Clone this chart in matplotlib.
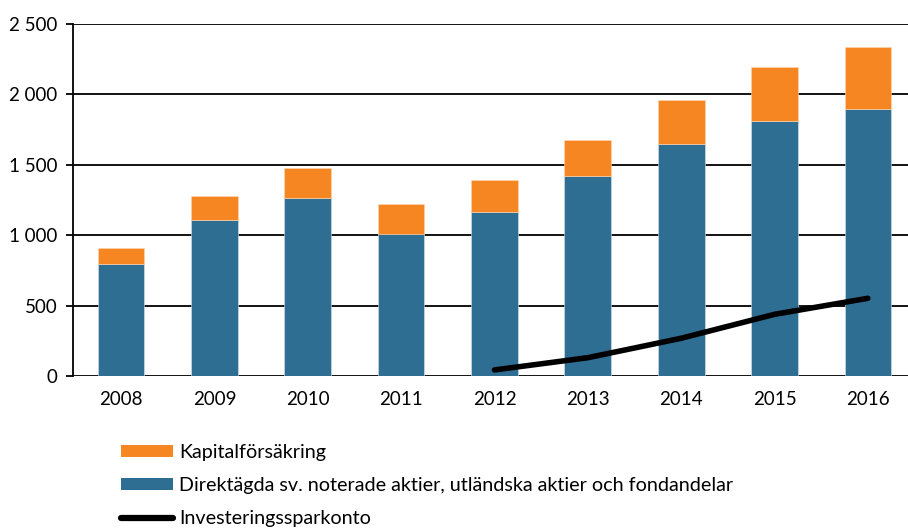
import numpy as np
import matplotlib
matplotlib.use("Agg")
import matplotlib.pyplot as plt
import matplotlib.ticker as ticker
from matplotlib.patches import Patch
from matplotlib.lines import Line2D

BLUE = "#2e6e92"
ORANGE = "#f58621"

years = ["2008", "2009", "2010", "2011", "2012", "2013", "2014", "2015", "2016"]
direkt = [797, 1108, 1262, 1008, 1165, 1418, 1645, 1813, 1899]
kapital = [112, 170, 213, 214, 227, 256, 315, 384, 440]
isk_years = ["2012", "2013", "2014", "2015", "2016"]
isk = [43, 130, 268, 438, 552]

plt.rcParams['font.family'] = ['Lato', 'DejaVu Sans']

fig = plt.figure(figsize=(9.08, 5.29), dpi=100)
ax = fig.add_axes([73 / 908, 1 - 376 / 529, 835 / 908, 352 / 529])

x = np.arange(len(years))
ax.bar(x, direkt, width=0.5, color=BLUE, edgecolor="#d8e4ec", linewidth=0.4, zorder=3)
ax.bar(x, kapital, width=0.5, bottom=direkt, color=ORANGE, edgecolor="#fbd9b8",
       linewidth=0.4, zorder=3)
xi = [years.index(y) for y in isk_years]
ax.plot(xi, isk, color="black", lw=4, solid_capstyle="round", zorder=4)

ax.set_xlim(-0.515, 8.43)
ax.set_ylim(0, 2500)
ax.set_yticks(np.arange(0, 2501, 500))
ax.yaxis.set_major_formatter(ticker.FuncFormatter(lambda v, p: "{:,.0f}".format(v).replace(",", " ")))
ax.set_xticks(x)
ax.set_xticklabels(years)
ax.grid(axis="y", color="black", lw=1.3, zorder=1)
for s in ["top", "right", "bottom"]:
    ax.spines[s].set_visible(False)
ax.spines["left"].set_linewidth(1.3)
ax.tick_params(axis="y", length=5, width=1.3, labelsize=13.5, pad=6)
ax.tick_params(axis="x", length=0, labelsize=13.5, pad=11)

handles = [Patch(facecolor=ORANGE, edgecolor="none"),
           Patch(facecolor=BLUE, edgecolor="none"),
           Line2D([0], [0], color="black", lw=4.5, solid_capstyle="round")]
labels = ["Kapitalförsäkring",
          "Direktägda sv. noterade aktier, utländska aktier och fondandelar",
          "Investeringssparkonto"]
fig.legend(handles, labels, loc="upper left", bbox_to_anchor=(121 / 908, 1 - 444 / 529),
           frameon=False, fontsize=14.2, handlelength=2.65, handleheight=0.55,
           handletextpad=0.3, labelspacing=0.82, borderaxespad=0, borderpad=0)

fig.savefig("out.png", dpi=100)
